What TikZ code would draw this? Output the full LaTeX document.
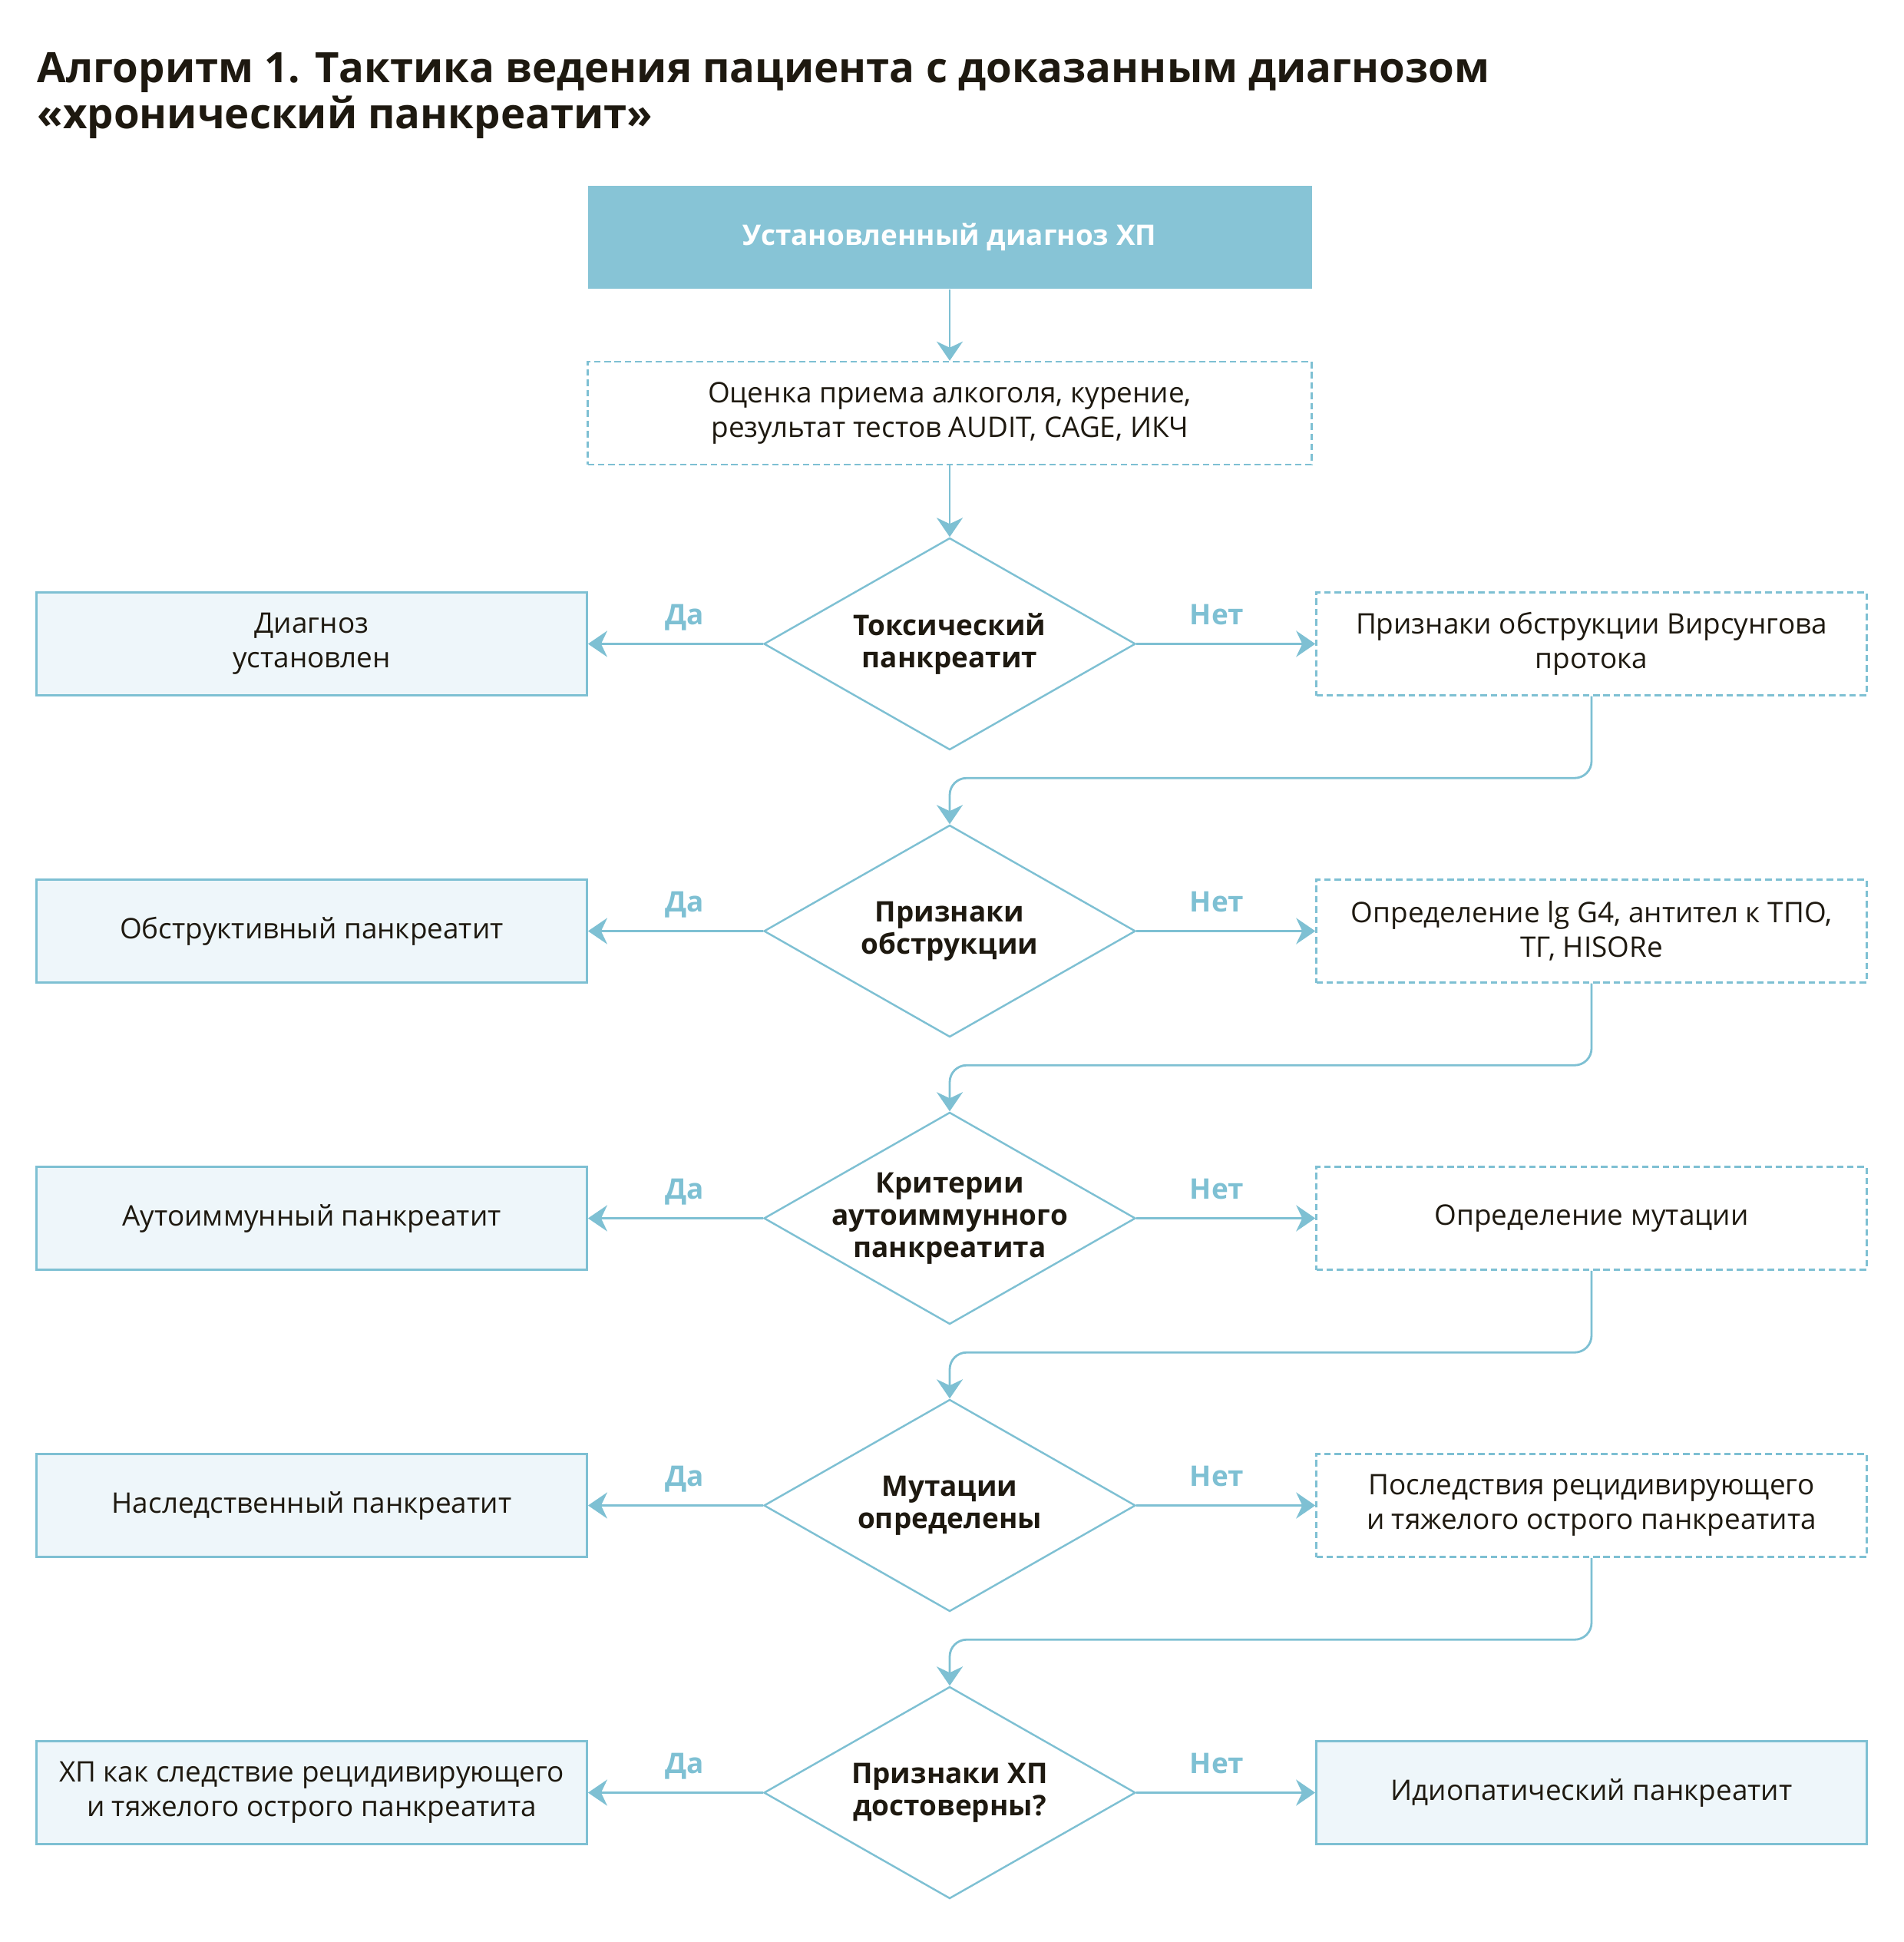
\documentclass[tikz,border=0pt]{standalone}
\usepackage{fontspec}
\setmainfont{Open Sans}
\usetikzlibrary{shapes.geometric,arrows.meta}
\definecolor{ink}{HTML}{1E1910}
\definecolor{lineblue}{HTML}{7EC0D3}
\definecolor{headfill}{HTML}{87C4D6}
\definecolor{palefill}{HTML}{EEF6FA}
\tikzset{every node/.style={font=\fontsize{10.5}{12.8}\selectfont,text=ink,align=center,inner sep=0pt},
  headbox/.style={rectangle,fill=headfill,minimum width=9.43cm,minimum height=1.34cm,
    text=white,font=\fontsize{10.5}{12.8}\selectfont\bfseries},
  dashbox/.style={rectangle,draw=lineblue,line width=0.7pt,dash pattern=on 2.4pt off 1.4pt,
    minimum width=7.17cm,minimum height=1.34cm},
  endbox/.style={rectangle,draw=lineblue,fill=palefill,line width=0.8pt,
    minimum width=7.17cm,minimum height=1.34cm},
  ask/.style={diamond,aspect=1.75,draw=lineblue,line width=0.7pt,
    minimum width=4.84cm,minimum height=2.76cm,
    label={[font=\fontsize{10.5}{12}\selectfont\bfseries,align=center]center:#1}},
  yesno/.style={text=lineblue,font=\fontsize{10.5}{12.8}\selectfont\bfseries,text depth=0pt},
  flow/.style={draw=lineblue,line width=0.8pt,-{Stealth[length=0.25cm,width=0.34cm,inset=0.08cm]}}}

\begin{document}
\begin{tikzpicture}
  \useasboundingbox (0,0) rectangle (24.8,-25.29);
  \node[anchor=north west,align=left,font=\fontsize{15.5}{17}\selectfont\bfseries] (title) at (0.48,-0.68)
    {Алгоритм 1. Тактика ведения пациента с доказанным диагнозом\\«хронический панкреатит»};

  \node[headbox] (start) at (12.37,-3.09) {Установленный диагноз ХП};
  \node[dashbox,minimum width=9.43cm] (alc) at (12.37,-5.38)
    {Оценка приема алкоголя, курение,\\результат тестов AUDIT, CAGE, ИКЧ};

  \node[ask={Токсический\\панкреатит}] (q1) at (12.37,-8.385) {};
  \node[ask={Признаки\\обструкции}] (q2) at (12.37,-12.125) {};
  \node[ask={Критерии\\аутоиммунного\\панкреатита}] (q3) at (12.37,-15.865) {};
  \node[ask={Мутации\\определены}] (q4) at (12.37,-19.605) {};
  \node[ask={Признаки ХП\\достоверны?}] (q5) at (12.37,-23.345) {};

  \node[endbox] (y1) at (4.06,-8.385) {Диагноз\\установлен};
  \node[endbox] (y2) at (4.06,-12.125) {Обструктивный панкреатит};
  \node[endbox] (y3) at (4.06,-15.865) {Аутоиммунный панкреатит};
  \node[endbox] (y4) at (4.06,-19.605) {Наследственный панкреатит};
  \node[endbox] (y5) at (4.06,-23.345) {ХП как следствие рецидивирующего\\и тяжелого острого панкреатита};

  \node[dashbox] (n1) at (20.73,-8.385) {Признаки обструкции Вирсунгова\\протока};
  \node[dashbox] (n2) at (20.73,-12.125) {Определение lg G4, антител к ТПО,\\ТГ, HISORe};
  \node[dashbox] (n3) at (20.73,-15.865) {Определение мутации};
  \node[dashbox] (n4) at (20.73,-19.605) {Последствия рецидивирующего\\и тяжелого острого панкреатита};
  \node[endbox] (n5) at (20.73,-23.345) {Идиопатический панкреатит};

  \draw[flow] (start) -- (alc);
  \draw[flow] (alc) -- (q1);
\foreach \q/\y/\n in {q1/y1/n1,q2/y2/n2,q3/y3/n3,q4/y4/n4,q5/y5/n5}{
  \draw[flow] (\q.west) -- node[yesno,pos=0.45,above=0.24cm] (\q-yes) {Да} (\y.east);
  \draw[flow] (\q.east) -- node[yesno,pos=0.45,above=0.24cm] (\q-no) {Нет} (\n.west);
}
\foreach \n/\q in {n1/q2,n2/q3,n3/q4,n4/q5}
  \draw[flow,rounded corners=0.22cm] (\n.south) -- ++(0,-1.065) -| (\q.north);
\end{tikzpicture}
\end{document}
